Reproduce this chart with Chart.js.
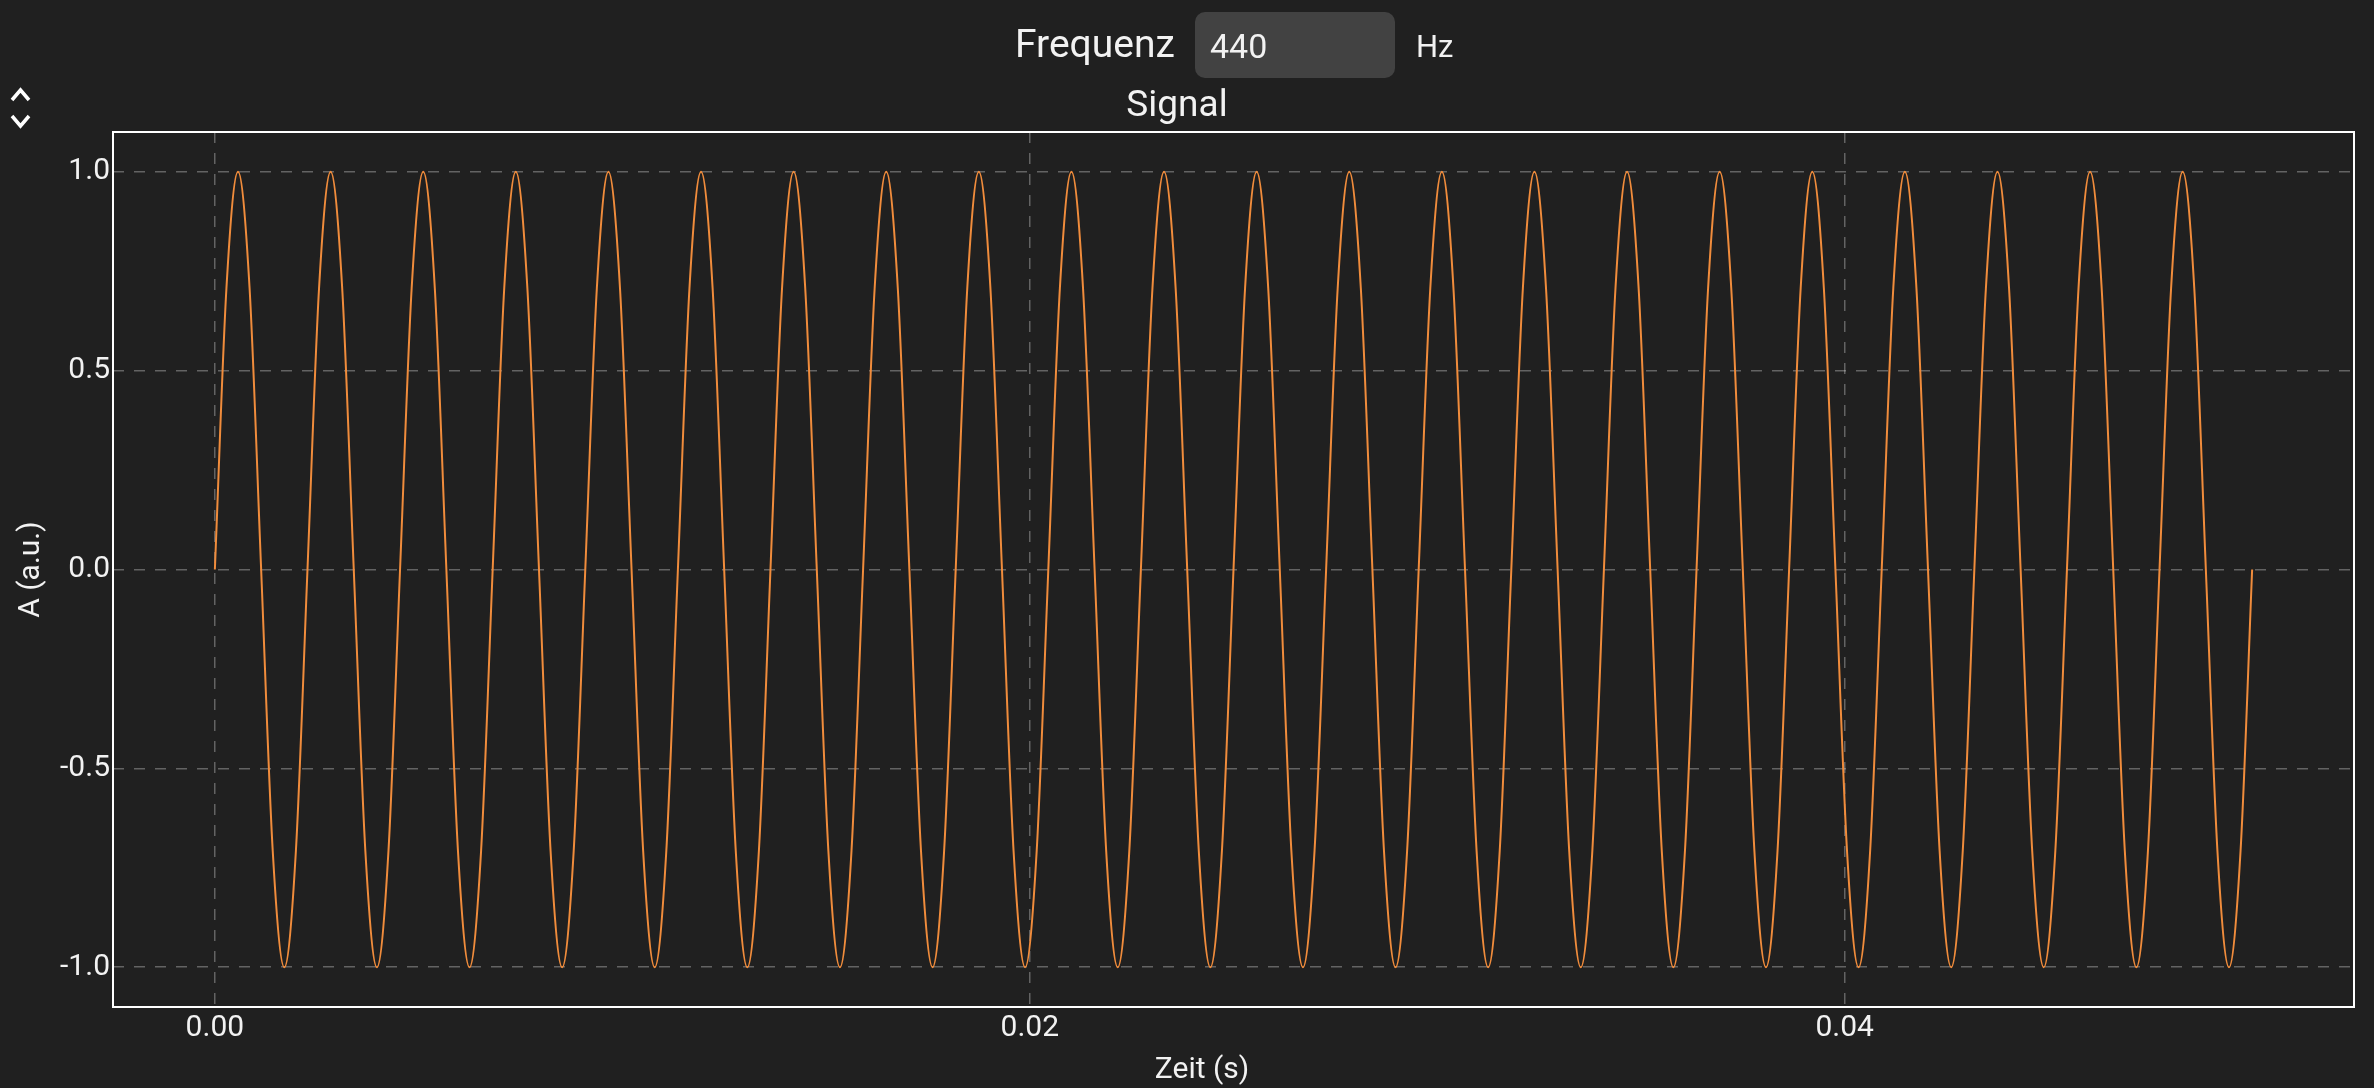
<!DOCTYPE html>
<html>
<head>
<meta charset="utf-8">
<script src="https://cdn.jsdelivr.net/npm/chart.js@4.4.1/dist/chart.umd.min.js"></script>
<style>
  html, body { margin: 0; padding: 0; background: #202020; overflow: hidden; }
  #wrap { position: absolute; left: 0; top: 0; width: 2374px; height: 1088px; }
  .t { position: absolute; font-family: Roboto, sans-serif; color: #f2f2f2; line-height: 1; white-space: nowrap; }
  #freqLabel { left: 1015px; top: 25px; font-size: 39px; }
  #freqBox { position: absolute; left: 1195px; top: 12px; width: 200px; height: 66px; border-radius: 10px; background: #424242; }
  #freqVal { left: 1210px; top: 29px; font-size: 34px; }
  #unit { left: 1416px; top: 31px; font-size: 31px; }
  #chev { position: absolute; left: 0; top: 80px; }
</style>
</head>
<body>
<div id="wrap"><canvas id="c"></canvas></div>
<div class="t" id="freqLabel">Frequenz</div>
<div id="freqBox"></div>
<div class="t" id="freqVal">440</div>
<div class="t" id="unit">Hz</div>
<svg id="chev" width="40" height="60" viewBox="0 0 40 60">
  <polyline points="12,20 20.5,10 29,20" fill="none" stroke="#ffffff" stroke-width="3.5" stroke-linejoin="miter"/>
  <polyline points="12,36 20.5,46 29,36" fill="none" stroke="#ffffff" stroke-width="3.5" stroke-linejoin="miter"/>
</svg>
<script>
// Sample times in microseconds (8 samples per 440 Hz cycle)
const timeUs = [
  0, 284, 568, 852, 1136, 1420, 1705, 1989,
  2273, 2557, 2841, 3125, 3409, 3693, 3977, 4261,
  4545, 4830, 5114, 5398, 5682, 5966, 6250, 6534,
  6818, 7102, 7386, 7670, 7955, 8239, 8523, 8807,
  9091, 9375, 9659, 9943, 10227, 10511, 10795, 11080,
  11364, 11648, 11932, 12216, 12500, 12784, 13068, 13352,
  13636, 13920, 14205, 14489, 14773, 15057, 15341, 15625,
  15909, 16193, 16477, 16761, 17045, 17330, 17614, 17898,
  18182, 18466, 18750, 19034, 19318, 19602, 19886, 20170,
  20455, 20739, 21023, 21307, 21591, 21875, 22159, 22443,
  22727, 23011, 23295, 23580, 23864, 24148, 24432, 24716,
  25000, 25284, 25568, 25852, 26136, 26420, 26705, 26989,
  27273, 27557, 27841, 28125, 28409, 28693, 28977, 29261,
  29545, 29830, 30114, 30398, 30682, 30966, 31250, 31534,
  31818, 32102, 32386, 32670, 32955, 33239, 33523, 33807,
  34091, 34375, 34659, 34943, 35227, 35511, 35795, 36080,
  36364, 36648, 36932, 37216, 37500, 37784, 38068, 38352,
  38636, 38920, 39205, 39489, 39773, 40057, 40341, 40625,
  40909, 41193, 41477, 41761, 42045, 42330, 42614, 42898,
  43182, 43466, 43750, 44034, 44318, 44602, 44886, 45170,
  45455, 45739, 46023, 46307, 46591, 46875, 47159, 47443,
  47727, 48011, 48295, 48580, 48864, 49148, 49432, 49716,
  50000
];
// Amplitude (a.u.) at those samples
const amplitude = [
  0, 0.707, 1, 0.707, 0, -0.707, -1, -0.707,
  0, 0.707, 1, 0.707, 0, -0.707, -1, -0.707,
  0, 0.707, 1, 0.707, 0, -0.707, -1, -0.707,
  0, 0.707, 1, 0.707, 0, -0.707, -1, -0.707,
  0, 0.707, 1, 0.707, 0, -0.707, -1, -0.707,
  0, 0.707, 1, 0.707, 0, -0.707, -1, -0.707,
  0, 0.707, 1, 0.707, 0, -0.707, -1, -0.707,
  0, 0.707, 1, 0.707, 0, -0.707, -1, -0.707,
  0, 0.707, 1, 0.707, 0, -0.707, -1, -0.707,
  0, 0.707, 1, 0.707, 0, -0.707, -1, -0.707,
  0, 0.707, 1, 0.707, 0, -0.707, -1, -0.707,
  0, 0.707, 1, 0.707, 0, -0.707, -1, -0.707,
  0, 0.707, 1, 0.707, 0, -0.707, -1, -0.707,
  0, 0.707, 1, 0.707, 0, -0.707, -1, -0.707,
  0, 0.707, 1, 0.707, 0, -0.707, -1, -0.707,
  0, 0.707, 1, 0.707, 0, -0.707, -1, -0.707,
  0, 0.707, 1, 0.707, 0, -0.707, -1, -0.707,
  0, 0.707, 1, 0.707, 0, -0.707, -1, -0.707,
  0, 0.707, 1, 0.707, 0, -0.707, -1, -0.707,
  0, 0.707, 1, 0.707, 0, -0.707, -1, -0.707,
  0, 0.707, 1, 0.707, 0, -0.707, -1, -0.707,
  0, 0.707, 1, 0.707, 0, -0.707, -1, -0.707,
  0
];
const xTicks = [0, 0.02, 0.04];
const xTickLabels = ['0.00', '0.02', '0.04'];
const yTicks = [-1, -0.5, 0, 0.5, 1];
const yTickLabels = ['-1.0', '-0.5', '0.0', '0.5', '1.0'];
const chartTitle = 'Signal';
const xTitle = 'Zeit (s)';
const yTitle = 'A (a.u.)';

const FONT = 'Roboto, sans-serif';
const TEXT = '#f2f2f2';
const GRID = 'rgba(255,255,255,0.30)';

const points = timeUs.map((t, i) => ({ x: t / 1e6, y: amplitude[i] }));

const framePlugin = {
  id: 'frame',
  beforeDatasetsDraw(chart) {
    const { ctx, chartArea: a } = chart;
    ctx.save();
    ctx.strokeStyle = '#ffffff';
    ctx.lineWidth = 2;
    ctx.strokeRect(a.left, a.top, a.right - a.left, a.bottom - a.top);
    ctx.restore();
  },
  afterDraw(chart) {
    const ctx = chart.ctx;
    ctx.save();
    ctx.font = '30px ' + FONT;
    ctx.fillStyle = TEXT;
    ctx.textAlign = 'center';
    ctx.textBaseline = 'alphabetic';
    ctx.fillText(xTitle, (chart.width + 30) / 2, 1078);
    ctx.restore();
  }
};

new Chart(document.getElementById('c'), {
  type: 'line',
  data: {
    datasets: [{
      data: points,
      borderColor: '#f08c3c',
      borderWidth: 2,
      pointRadius: 0,
      fill: false,
      cubicInterpolationMode: 'monotone'
    }]
  },
  options: {
    responsive: true,
    maintainAspectRatio: false,
    animation: false,
    events: [],
    layout: { padding: { top: 0, right: 20, bottom: 0, left: 0 } },
    plugins: {
      legend: { display: false },
      tooltip: { enabled: false },
      title: {
        display: true,
        text: chartTitle,
        color: TEXT,
        font: { family: FONT, size: 37, weight: 'normal' },
        padding: { top: 85, bottom: 2.6 }
      }
    },
    scales: {
      x: {
        type: 'linear',
        min: -0.0025,
        max: 0.0525,
        afterFit(s) { s.height = 81; },
        afterBuildTicks(s) { s.ticks = xTicks.map(v => ({ value: v })); },
        ticks: {
          includeBounds: false,
          padding: 3,
          color: TEXT,
          font: { family: FONT, size: 30 },
          maxRotation: 0,
          callback: (v) => { const i = xTicks.findIndex(t => Math.abs(t - v) < 1e-9); return i >= 0 ? xTickLabels[i] : ''; }
        },
        grid: { color: GRID, lineWidth: 1.5, drawTicks: false },
        border: { display: false, dash: [11, 10] }
      },
      y: {
        type: 'linear',
        min: -1.1,
        max: 1.1,
        afterFit(s) { s.width = 113; },
        afterBuildTicks(s) { s.ticks = yTicks.map(v => ({ value: v })); },
        ticks: {
          includeBounds: false,
          padding: 3,
          color: TEXT,
          font: { family: FONT, size: 30 },
          callback: (v) => { const i = yTicks.findIndex(t => Math.abs(t - v) < 1e-9); return i >= 0 ? yTickLabels[i] : ''; }
        },
        title: {
          display: true,
          text: yTitle,
          color: TEXT,
          font: { family: FONT, size: 30 },
          padding: { top: 13, bottom: 0 }
        },
        grid: { color: GRID, lineWidth: 1.5, drawTicks: false },
        border: { display: false, dash: [11, 10] }
      }
    }
  },
  plugins: [framePlugin]
});
</script>
</body>
</html>
